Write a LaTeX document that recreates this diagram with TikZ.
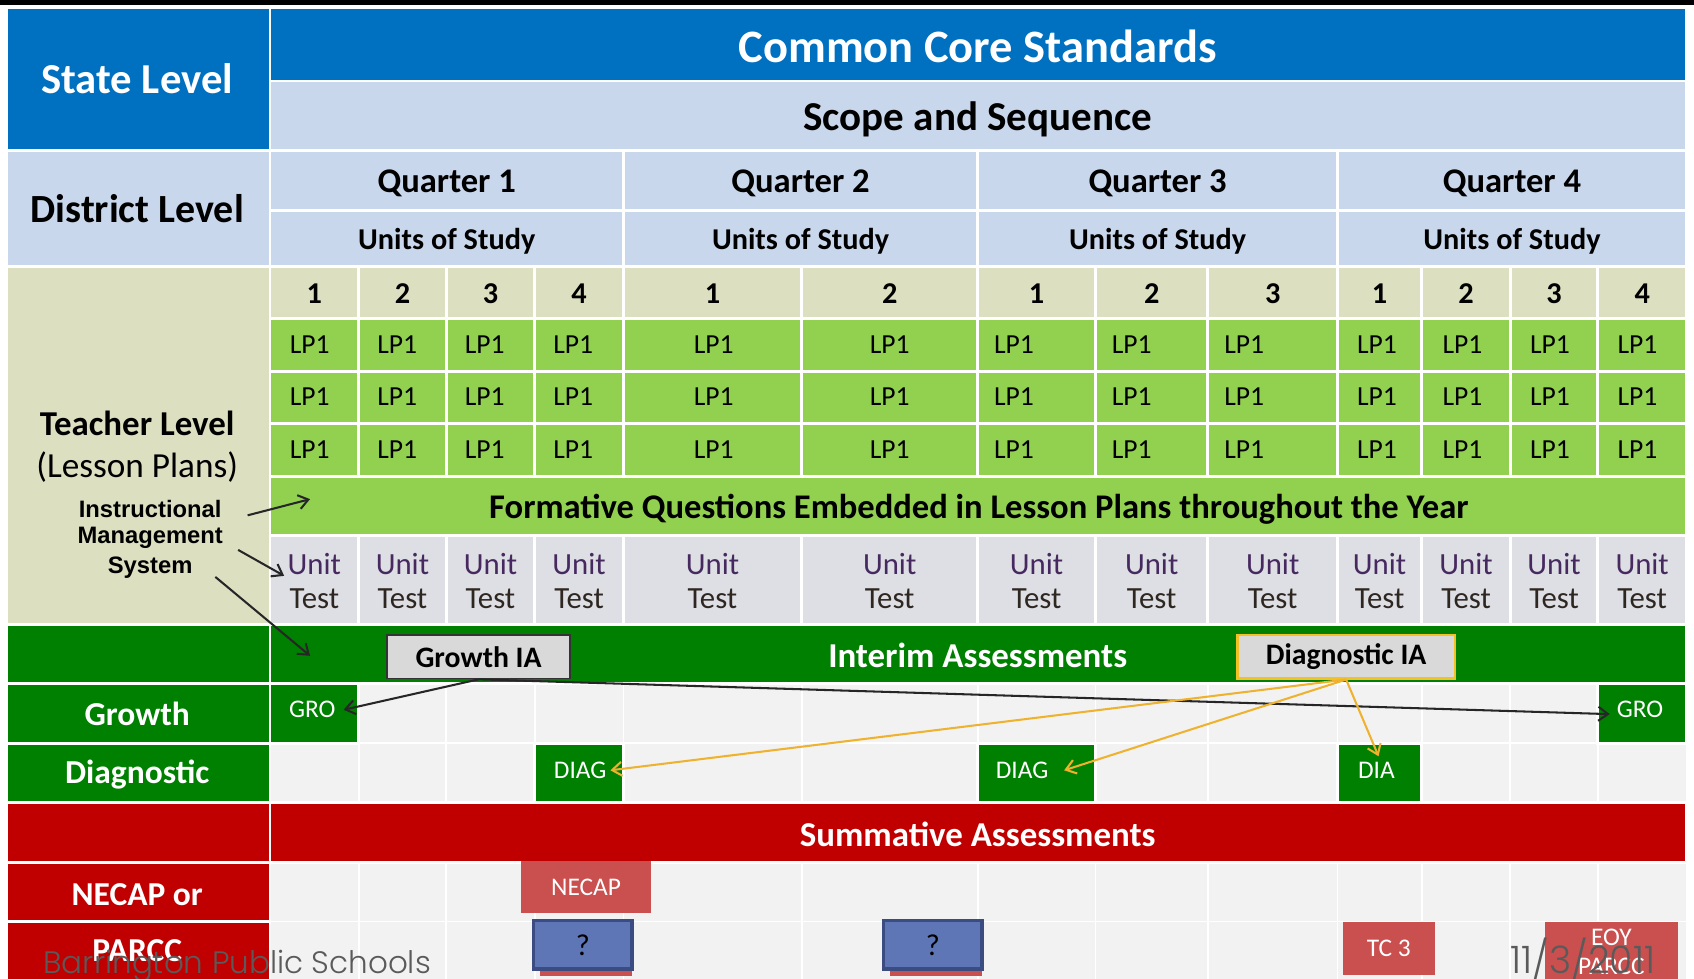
\documentclass[tikz,border=0pt]{standalone}
\usepackage{fontspec}
\setmainfont{Carlito}
\newfontfamily\arialfont{Liberation Sans}
\newfontfamily\footfont{Poppins}[UprightFont={* Light}]
\usetikzlibrary{arrows.meta}

\definecolor{ccblue}{HTML}{0070C0}
\definecolor{paleblue}{HTML}{C9D7EC}
\definecolor{khaki}{HTML}{DDDFC1}
\definecolor{lpgreen}{HTML}{92D050}
\definecolor{testgray}{HTML}{DEDFE5}
\definecolor{iagreen}{HTML}{008000}
\definecolor{cellgray}{HTML}{F2F2F2}
\definecolor{sumred}{HTML}{C00000}
\definecolor{boxred}{HTML}{C9504F}
\definecolor{qblue}{HTML}{5E76B6}
\definecolor{qedge}{HTML}{3B4C82}
\definecolor{iaorange}{HTML}{EFB22E}
\definecolor{iabox}{HTML}{D9D9D9}
\definecolor{unitpurple}{HTML}{46295E}
\definecolor{testdark}{HTML}{2E2620}
\definecolor{footgray}{HTML}{5A5A5A}

\newcommand{\fsz}[2]{\fontsize{#1}{#2}\selectfont}

\begin{document}
\begin{tikzpicture}[x=1pt,y=-1pt,>={Straight Barb[length=9pt,width=13pt]},
    grid/.style={draw=white,line width=2.6pt},
    lite/.style={draw=white,line width=1.6pt},
    big/.style={font=\bfseries\fsz{40}{44}},
    side/.style={font=\bfseries\fsz{31}{34}},
    band/.style={font=\bfseries\fsz{32.3}{35},text=white},
    quart/.style={font=\bfseries\fsz{32}{35}},
    uos/.style={font=\bfseries\fsz{28}{31}},
    num/.style={font=\bfseries\fsz{28}{31}},
    lp/.style={font=\fsz{25.5}{28},anchor=west,inner sep=0pt},
    ut/.style={font=\fsz{28.5}{31},align=center,inner sep=0pt},
    ims/.style={font=\arialfont\bfseries\fsz{22}{26},inner sep=0pt},
    iatag/.style={font=\bfseries\fsz{27.5}{30},fill=iabox,minimum height=40pt,inner sep=0pt},
    tag/.style={font=\fsz{23.5}{26},text=white,inner sep=0pt},
    redbox/.style={fill=boxred,text=white,font=\fsz{23.5}{26},inner sep=0pt},
    qbox/.style={fill=qblue,draw=qedge,line width=3pt,font=\fsz{28}{30},minimum width=91pt,minimum height=45pt,inner sep=0pt},
    blk/.style={->,draw=black!85,line width=1.9pt},
    org/.style={->,draw=iaorange,line width=1.9pt},
    foot/.style={font=\footfont,text=footgray,inner sep=0pt,anchor=base west}]

  \useasboundingbox (0,0) rectangle (1568,906);
  \fill[white] (0,0) rectangle (1568,906);
  \fill[black] (0,0) rectangle (1568,5);

  % left column
  \path[grid,fill=ccblue] (6,7) rectangle (250,139);
  \path[grid,fill=paleblue] (6,139) rectangle (250,247);
  \path[grid,fill=khaki] (6,247) rectangle (250,578);
  \path[grid,fill=iagreen] (6,578) rectangle (250,633) (6,633) rectangle (250,688)
    (6,688) rectangle (250,743);
  \path[grid,fill=sumred] (6,743) rectangle (250,798) (6,798) rectangle (250,853)
    (6,853) rectangle (250,915);

  % header rows
  \path[grid,fill=ccblue] (250,7) rectangle (1561,75);
  \path[grid,fill=paleblue] (250,75) rectangle (1561,139);
  \foreach \a/\b/\q in {250/577/1,577/905/2,905/1238/3,1238/1561/4}{
    \path[grid,fill=paleblue] (\a,139) rectangle (\b,195) (\a,195) rectangle (\b,247);
    \node[quart] (q\q) at ({(\a+\b)/2},169.5) {Quarter \q};
    \node[uos] (u\q) at ({(\a+\b)/2},223.5) {Units of Study};
  }

  % units of study columns
  \foreach \a/\b/\n/\lx [count=\i] in {250/332/1/268,332/413/2/349,413/495/3/430,
      495/577/4/512,577/742/1/642,742/905/2/805,905/1014/1/920,1014/1118/2/1029,
      1118/1238/3/1133,1238/1316/1/1256,1316/1398/2/1335,1398/1479/3/1416,1479/1561/4/1497}{
    \path[grid,fill=khaki] (\a,247) rectangle (\b,295);
    \path[grid,fill=lpgreen] (\a,295) rectangle (\b,344) (\a,344) rectangle (\b,392)
      (\a,392) rectangle (\b,441);
    \path[grid,fill=testgray] (\a,496) rectangle (\b,578);
    \path[lite,fill=cellgray] (\a,633) rectangle (\b,688) (\a,688) rectangle (\b,743)
      (\a,798) rectangle (\b,853) (\a,853) rectangle (\b,915);
    \node[num] (n\i) at ({(\a+\b)/2},272) {\n};
    \foreach \y [count=\r] in {319,367,416}
      \node[lp] (lp\r-\i) at (\lx,\y) {LP1};
    \node[ut] (ut\i) at ({(\a+\b)/2},538) {\textcolor{unitpurple}{Unit}\\\textcolor{testdark}{Test}};
  }

  % full width bands
  \path[grid,fill=lpgreen] (250,441) rectangle (1561,496);
  \path[grid,fill=iagreen] (250,578) rectangle (1561,633);
  \path[grid,fill=sumred] (250,743) rectangle (1561,798);
  % growth and diagnostic cells
  \path[grid,fill=iagreen] (250,633) rectangle (332,688) (1479,633) rectangle (1561,688)
    (495,688) rectangle (577,743) (905,688) rectangle (1014,743) (1238,688) rectangle (1316,743);

  % texts
  \node[big,font=\bfseries\fsz{43}{46},text=white] (ccs) at (905,43) {Common Core Standards};
  \node[big,font=\bfseries\fsz{38}{42}] (sas) at (905,110) {Scope and Sequence};
  \node[side,font=\bfseries\fsz{39.5}{42},text=white] (state) at (127,73) {State Level};
  \node[side,font=\bfseries\fsz{37}{40}] (district) at (127,193) {District Level};
  \node[side,font=\bfseries\fsz{32.3}{35}] (teacher) at (127,392) {Teacher Level};
  \node[side,font=\fsz{32.6}{35}] (lessons) at (127,432) {(Lesson Plans)};
  \node[font=\bfseries\fsz{32}{35}] (form) at (906,471)
    {Formative Questions Embedded in Lesson Plans throughout the Year};

  \node[ims] (ims1) at (139,471) {Instructional};
  \node[ims] (ims2) at (139,498) {Management};
  \node[ims] (ims3) at (139,525) {System};

  \node[band] (interim) at (905,607) {Interim Assessments};
  \node[side,text=white] (growth) at (127,661) {Growth};
  \node[side,text=white] (diag) at (127,717) {Diagnostic};
  \node[band] (summ) at (905,772) {Summative Assessments};
  \node[side,text=white] (necapor) at (127,828) {NECAP or};
  \node[side,text=white] (parcc) at (127,880) {PARCC};

  \node[iatag,draw=black!80,line width=1.6pt,minimum width=169pt] (gia) at (443,608) {Growth IA};
  \node[iatag,draw=iaorange!80!yellow,line width=2pt,minimum width=201pt] (dia) at (1246,608) {Diagnostic IA};

  \node[tag] (groA) at (289,657) {GRO};
  \node[tag] (groB) at (1518,657) {GRO};
  \node[tag] (diagA) at (537,713) {DIAG};
  \node[tag] (diagB) at (946,713) {DIAG};
  \node[tag] (diaC) at (1274,713) {DIA};

  \node[redbox,minimum width=121pt,minimum height=48pt] (necap) at (542.5,821) {NECAP};
  \fill[boxred] (500,860) rectangle (585,903);
  \fill[boxred] (824,860) rectangle (909,903);
  \node[qbox] (qa) at (539.5,874.5) {?};
  \node[qbox] (qb) at (863.5,874.5) {?};
  \node[redbox,minimum width=85pt,minimum height=49pt] (tc) at (1285.5,877.5) {TC 3};
  \node[redbox,minimum width=123pt,minimum height=56pt,align=center,font=\fsz{23.5}{27}] (eoy) at (1491.5,881) {EOY\\PARCC};

  % arrow tips
  \coordinate (tipA) at (287,462);
  \coordinate (tipB) at (263,533);
  \coordinate (tipC) at (287,607);
  \coordinate (tipG1) at (318,657);
  \coordinate (tipG2) at (1490,661);
  \coordinate (tipD1) at (565,713);
  \coordinate (tipD2) at (985,713);
  \coordinate (tipD3) at (1276,700);

  \draw[blk] ([shift={(24,6)}]ims1.east) -- (tipA);
  \draw[blk] ([shift={(14,11)}]ims2.east) -- (tipB);
  \draw[blk] ([shift={(21,9)}]ims3.east) -- (tipC);
  \draw[blk] (gia.south) -- (tipG1);
  \draw[blk] (gia.south) -- (tipG2);
  \draw[org] (dia.south) -- (tipD1);
  \draw[org] (dia.south) -- (tipD2);
  \draw[org] (dia.south) -- (tipD3);

  % footer
  \node[foot,font=\footfont\fsz{28.7}{31}] (school) at (40,901) {Barrington Public Schools};
  \node[foot,font=\footfont\fsz{35}{37}] (date) at (1398,901) {11/3/2011};
\end{tikzpicture}
\end{document}
